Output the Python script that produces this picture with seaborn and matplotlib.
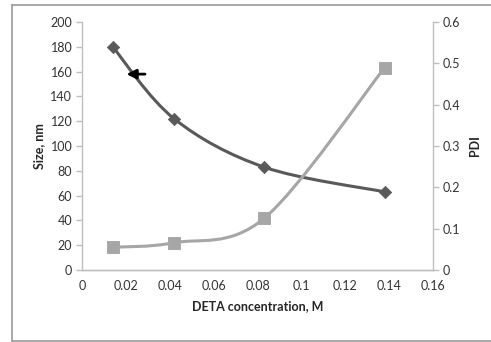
import matplotlib
matplotlib.use("Agg")
import matplotlib.pyplot as plt
import numpy as np
import pandas as pd
import seaborn as sns
from matplotlib.path import Path
from matplotlib.patches import PathPatch
from matplotlib.lines import Line2D

# values
deta_conc = [0.014, 0.042, 0.083, 0.138]
size_nm = [180, 122, 83, 63]
pdi = [0.055, 0.066, 0.125, 0.49]

size_color = "#595959"
pdi_color = "#A6A6A6"
axis_color = "#BFBFBF"


def smooth_path(xs, ys):
    # Excel-style smoothed line: Catmull-Rom converted to cubic Bezier
    pts = np.column_stack([xs, ys]).astype(float)
    verts = [pts[0]]
    codes = [Path.MOVETO]
    n = len(pts)
    for i in range(n - 1):
        p0 = pts[i - 1] if i > 0 else pts[i]
        p1 = pts[i]
        p2 = pts[i + 1]
        p3 = pts[i + 2] if i + 2 < n else pts[i + 1]
        c1 = p1 + (p2 - p0) / 6.0
        c2 = p2 - (p3 - p1) / 6.0
        verts += [c1, c2, p2]
        codes += [Path.CURVE4] * 3
    return Path(verts, codes)


sns.set_theme(style="white")
plt.rcParams["font.family"] = ["Lato", "DejaVu Sans"]

df = pd.DataFrame({"conc": deta_conc, "size": size_nm, "pdi": pdi})

fig = plt.figure(figsize=(4.91, 3.42), dpi=100)
ax = fig.add_axes([0.167, 0.2105, 0.715, 0.725])
ax2 = ax.twinx()

# outer chart border (left, top, bottom; right edge is off the picture)
bx, by0, by1 = 11.5 / 491, 1.5 / 342, 1 - 4.5 / 342
for xs, ys in (([bx, bx], [by0, by1]), ([bx, 1.0], [by1, by1]), ([bx, 1.0], [by0, by0])):
    fig.lines.append(Line2D(xs, ys, transform=fig.transFigure, color="#999999", lw=1.2))

ax.add_patch(PathPatch(smooth_path(deta_conc, size_nm), facecolor="none",
                       edgecolor=size_color, linewidth=2.2, zorder=3))
sns.scatterplot(data=df, x="conc", y="size", ax=ax, marker="D", s=40,
                color=size_color, edgecolor=size_color, zorder=4)

ax2.add_patch(PathPatch(smooth_path(deta_conc, pdi), facecolor="none",
                        edgecolor=pdi_color, linewidth=2.2, zorder=3))
sns.scatterplot(data=df, x="conc", y="pdi", ax=ax2, marker="s", s=70,
                color=pdi_color, edgecolor=pdi_color, zorder=4)

ax.annotate("", xy=(0.019, 158), xytext=(0.03, 158),
            arrowprops=dict(arrowstyle="-|>", color="black", lw=2.0,
                            mutation_scale=14))

ax.set_xlim(0, 0.16)
ax.set_ylim(0, 200)
ax2.set_ylim(0, 0.6)
ax.set_xticks(np.arange(0, 0.161, 0.02))
ax.set_xticklabels(["0", "0.02", "0.04", "0.06", "0.08", "0.1", "0.12", "0.14", "0.16"])
ax.set_yticks(range(0, 201, 20))
ax2.set_yticks(np.arange(0, 0.61, 0.1))
ax2.set_yticklabels(["0", "0.1", "0.2", "0.3", "0.4", "0.5", "0.6"])

for a in (ax, ax2):
    a.set_facecolor("none")
    a.spines["top"].set_visible(False)
    for s in ("left", "right", "bottom"):
        a.spines[s].set_color(axis_color)
        a.spines[s].set_linewidth(1.0)
    a.tick_params(colors="#333333", labelsize=9, length=4, width=1,
                  color=axis_color, direction="out", pad=3)
ax2.spines["left"].set_visible(False)
ax.spines["right"].set_visible(False)

ax.set_xlabel("DETA concentration, M", fontsize=9, fontweight="bold", labelpad=6)
ax.set_ylabel("Size, nm", fontsize=9, fontweight="bold", labelpad=4)
ax2.set_ylabel("PDI", fontsize=9, fontweight="bold", labelpad=6)

fig.savefig("out.png", dpi=100, facecolor="white")
